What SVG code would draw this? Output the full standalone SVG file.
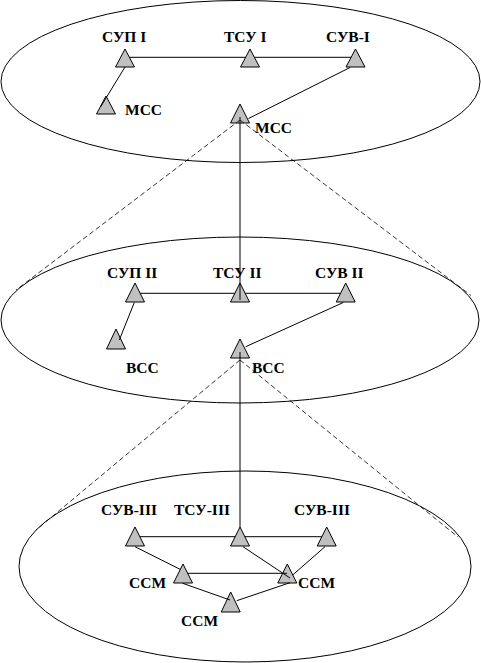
<svg xmlns="http://www.w3.org/2000/svg" width="481" height="663" viewBox="0 0 481 663">
<style>
.ell{fill:none;stroke:#000;stroke-width:1}
.tri{fill:#c0c0c0;stroke:#000;stroke-width:1}
.ln{stroke:#000;stroke-width:1;fill:none}
.dash{stroke:#000;stroke-width:0.8;fill:none;stroke-dasharray:5,3}
.lbl{font-family:"Liberation Serif","Times New Roman",serif;font-weight:bold;font-size:15.5px;fill:#000}
</style>
<rect width="481" height="663" fill="#fff"/>
<g id="levels">
<ellipse id="level1" class="ell" cx="240.5" cy="81.5" rx="239.5" ry="81"/>
<ellipse id="level2" class="ell" cx="240" cy="320" rx="239" ry="83"/>
<ellipse id="level3" class="ell" cx="245" cy="566.5" rx="226" ry="95.5"/>
</g>
<g id="nodes">
<g id="n-sup1"><polygon class="tri" points="125,49 134.5,67 115.5,67"/><text class="lbl" x="102" y="42">СУП I</text></g>
<g id="n-tsu1"><polygon class="tri" points="250,49 259.5,67 240.5,67"/><text class="lbl" x="224" y="42">ТСУ I</text></g>
<g id="n-suv1"><polygon class="tri" points="355.5,49 365,67 346,67"/><text class="lbl" x="326" y="42">СУВ-I</text></g>
<g id="n-mss1"><polygon class="tri" points="106,96 115.5,114 96.5,114"/><text class="lbl" x="125" y="115">МСС</text></g>
<g id="n-mss2"><polygon class="tri" points="240,104 249.5,123 230.5,123"/><text class="lbl" x="255" y="133">МСС</text></g>
<g id="n-sup2"><polygon class="tri" points="135,283 144.5,302 125.5,302"/><text class="lbl" x="107" y="278">СУП II</text></g>
<g id="n-tsu2"><polygon class="tri" points="240,283 249.5,302 230.5,302"/><text class="lbl" x="213" y="278">ТСУ II</text></g>
<g id="n-suv2"><polygon class="tri" points="345.7,283 355.2,302 336.2,302"/><text class="lbl" x="315" y="278">СУВ II</text></g>
<g id="n-vss1"><polygon class="tri" points="116,329 125.5,349 106.5,349"/><text class="lbl" x="126" y="373">ВСС</text></g>
<g id="n-vss2"><polygon class="tri" points="240,339 249.5,358 230.5,358"/><text class="lbl" x="252" y="373">ВСС</text></g>
<g id="n-suv3a"><polygon class="tri" points="135,527 144.5,546 125.5,546"/><text class="lbl" x="101" y="515">СУВ-III</text></g>
<g id="n-tsu3"><polygon class="tri" points="240,527 249.5,546 230.5,546"/><text class="lbl" x="174" y="515">ТСУ-III</text></g>
<g id="n-suv3b"><polygon class="tri" points="326.7,527 336.2,546 317.2,546"/><text class="lbl" x="294" y="515">СУВ-III</text></g>
<g id="n-ssm1"><polygon class="tri" points="183,564 192.5,583 173.5,583"/><text class="lbl" x="129" y="588">ССМ</text></g>
<g id="n-ssm2"><polygon class="tri" points="287.3,564 296.8,583 277.8,583"/><text class="lbl" x="298" y="588">ССМ</text></g>
<g id="n-ssm3"><polygon class="tri" points="230.7,592 240.2,612 221.2,612"/><text class="lbl" x="181" y="626">ССМ</text></g>
</g>
<g id="connectors">
<line class="ln" x1="130" y1="57.3" x2="245.5" y2="57.3"/>
<line class="ln" x1="254.5" y1="57.3" x2="351" y2="57.3"/>
<line class="ln" x1="125" y1="67" x2="100.5" y2="107"/>
<line class="ln" x1="350" y1="67.5" x2="248.5" y2="118.5"/>
<line class="ln" x1="240" y1="117" x2="240" y2="300"/>
<line class="dash" x1="240" y1="120" x2="16" y2="290"/>
<line class="dash" x1="240" y1="120" x2="471" y2="295.5"/>
<line class="ln" x1="140.2" y1="293.3" x2="234.9" y2="293.3"/>
<line class="ln" x1="245.1" y1="293.3" x2="340.5" y2="293.3"/>
<line class="ln" x1="134.3" y1="302.5" x2="119.3" y2="340"/>
<line class="ln" x1="343.3" y1="302.5" x2="245.7" y2="346.7"/>
<line class="ln" x1="240" y1="352" x2="240" y2="527"/>
<line class="dash" x1="240" y1="360" x2="36" y2="530"/>
<line class="dash" x1="240" y1="360" x2="458" y2="537"/>
<line class="ln" x1="139.9" y1="536.7" x2="235.2" y2="536.7"/>
<line class="ln" x1="244.8" y1="536.7" x2="321.8" y2="536.7"/>
<line class="ln" x1="135" y1="546.7" x2="180" y2="569.3"/>
<line class="ln" x1="243" y1="546.7" x2="290" y2="578"/>
<line class="ln" x1="325" y1="546.7" x2="292.7" y2="575"/>
<line class="ln" x1="187.7" y1="573.3" x2="287" y2="573.3"/>
<line class="ln" x1="182.7" y1="583.3" x2="230" y2="600"/>
<line class="ln" x1="236.7" y1="600.7" x2="290" y2="582.7"/>
</g>
</svg>
